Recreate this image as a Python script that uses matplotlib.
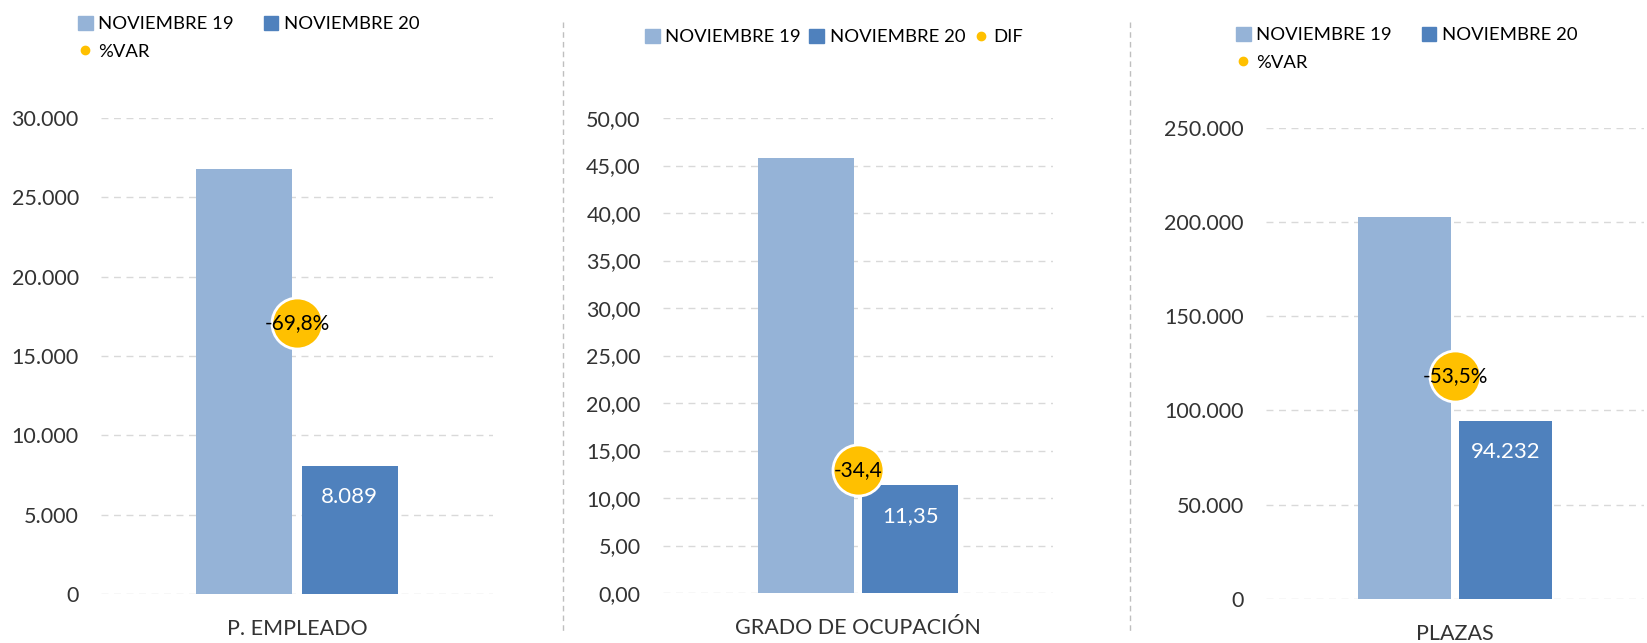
import matplotlib.pyplot as plt
from matplotlib.lines import Line2D
from matplotlib.patches import Patch

plt.rcParams['font.family'] = ['Lato', 'DejaVu Sans']

# data
categories = ['P. EMPLEADO', 'GRADO DE OCUPACIÓN', 'PLAZAS']
nov19 = [26785, 45.75, 202650]
nov20 = [8089, 11.35, 94232]
nov20_labels = ['8.089', '11,35', '94.232']
var_labels = ['-69,8%', '-34,4', '-53,5%']
var_names = ['%VAR', 'DIF', '%VAR']
var_y = [17100, 12.9, 118200]   # where the bubble sits on each axis
y_max = [30000, 50, 250000]
y_step = [5000, 5, 50000]
tick_fmt = ['{:,.0f}', '{:.2f}', '{:,.0f}']

C19 = '#95B3D7'
C20 = '#4F81BD'
CVAR = '#FFC000'
W, H = 1647, 643

fig = plt.figure(figsize=(W / 100, H / 100), dpi=100)

# axes boxes in pixels: left, right, top, bottom
boxes = [(101, 493, 118, 594), (663, 1053, 118, 593), (1266, 1644, 127.5, 599)]


def es_num(v, fmt):
    s = fmt.format(v)
    return s.replace(',', 'X').replace('.', ',').replace('X', '.')


axes = []
for i, (l, r, t, b) in enumerate(boxes):
    ax = fig.add_axes([l / W, 1 - b / H, (r - l) / W, (b - t) / H])
    axes.append(ax)
    bw = 0.245
    off = 0.134
    ax.bar([-off], [nov19[i]], width=bw, color=C19, zorder=2)
    ax.bar([off], [nov20[i]], width=bw, color=C20, zorder=2)
    ax.scatter([0], [var_y[i]], s=1350, color=CVAR, edgecolors='white',
               linewidths=2, zorder=4)
    ax.text(0, var_y[i], var_labels[i], ha='center', va='center',
            fontsize=15, color='black', zorder=5)
    ax.annotate(nov20_labels[i], (off, nov20[i]), xytext=(0, -31),
                textcoords='offset pixels', ha='center', va='center',
                fontsize=16, color='white', zorder=5)
    ax.set_xlim(-0.5, 0.5)
    ax.set_ylim(0, y_max[i])
    ticks = [k * y_step[i] for k in range(int(y_max[i] / y_step[i]) + 1)]
    ax.set_yticks(ticks)
    ax.set_yticklabels([es_num(v, tick_fmt[i]) for v in ticks])
    ax.set_xticks([0])
    ax.set_xticklabels([categories[i]])
    ax.tick_params(axis='both', length=0, labelsize=15.5, colors='#333333')
    ax.tick_params(axis='y', pad=16)
    ax.tick_params(axis='x', pad=18)
    ax.grid(axis='y', color='#D9D9D9', linestyle=(0, (5, 4)), linewidth=1,
            zorder=0)
    for sp in ax.spines.values():
        sp.set_visible(False)

    handles = [Patch(color=C19), Patch(color=C20),
               Line2D([], [], marker='o', linestyle='', color=CVAR,
                      markersize=6)]
    names = ['NOVIEMBRE 19', 'NOVIEMBRE 20', var_names[i]]
    if i == 1:
        leg = fig.legend(handles, names, loc='center left', ncol=3,
                         bbox_to_anchor=(645 / W, 1 - 37 / H),
                         fontsize=13.3, frameon=False, handlelength=0.8,
                         handleheight=0.8, handletextpad=0.3,
                         columnspacing=0.45, borderaxespad=0, borderpad=0)
    else:
        order = [0, 2, 1]
        lx, ly = [(78, 16), (1236, 27)][i // 2]
        leg = fig.legend([handles[k] for k in order],
                         [names[k] for k in order], loc='upper left', ncol=2,
                         bbox_to_anchor=(lx / W, 1 - ly / H),
                         fontsize=13.3, frameon=False, handlelength=0.8,
                         handleheight=0.8, handletextpad=0.3,
                         columnspacing=1.6, labelspacing=0.6,
                         borderaxespad=0, borderpad=0)

# dashed separators between panels
for x in (563, 1130):
    fig.add_artist(Line2D([x / W, x / W], [1 - 22 / H, 1 - 632 / H],
                          color='#BFBFBF', linestyle=(0, (4, 3)),
                          linewidth=1))

fig.savefig('out.png', dpi=100)
